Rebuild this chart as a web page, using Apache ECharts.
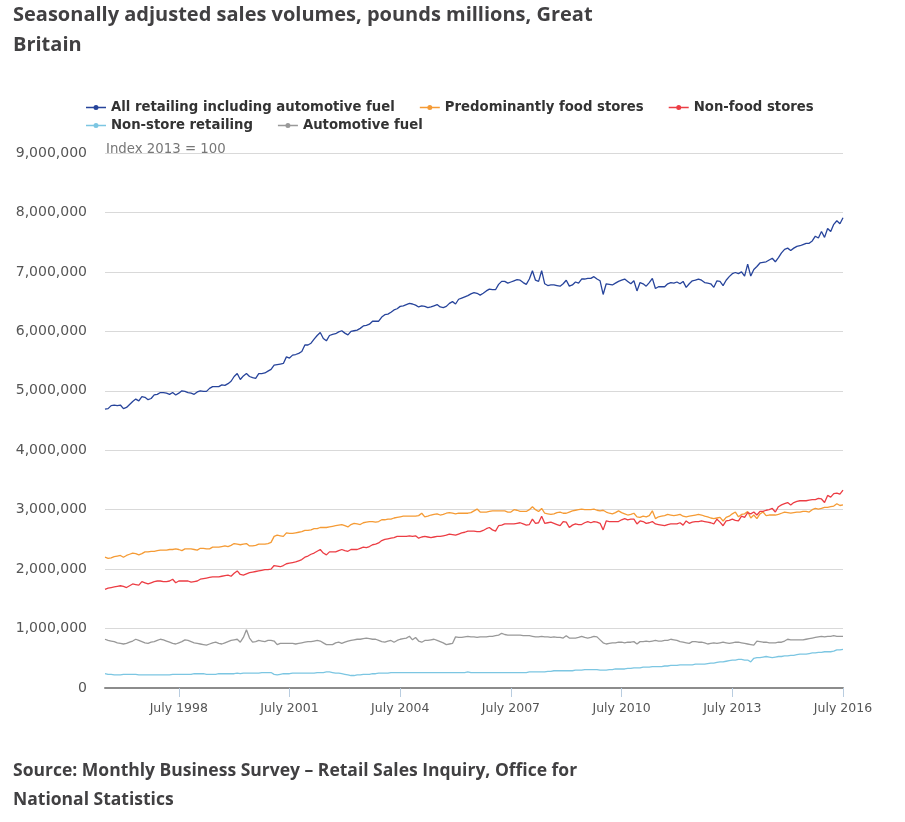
<!DOCTYPE html>
<html>
<head>
<meta charset="utf-8">
<script src="https://cdn.jsdelivr.net/npm/echarts@6/dist/echarts.min.js"></script>
<style>
html,body{margin:0;padding:0;background:#fff;}
#chart{width:905px;height:822px;}
</style>
</head>
<body>
<div id="chart"></div>
<script>
// Monthly categories: July 1996 .. July 2016
var monthNames = ['January','February','March','April','May','June','July','August','September','October','November','December'];
var categories = [];
for (var k = 0; k < 241; k++) {
  categories.push(monthNames[(6 + k) % 12] + ' ' + (1996 + Math.floor((6 + k) / 12)));
}
var tickLabels = ['July 1998','July 2001','July 2004','July 2007','July 2010','July 2013','July 2016'];

// Values in pounds millions (millions on axis scale)
var allRetailing = [
4.69,4.70,4.75,4.76,4.75,4.76,4.70,4.72,4.77,4.82,
4.86,4.83,4.90,4.89,4.85,4.87,4.93,4.94,4.97,4.97,
4.96,4.94,4.97,4.93,4.96,5.00,4.99,4.97,4.96,4.94,
4.98,5.00,4.99,4.99,5.04,5.07,5.07,5.07,5.10,5.09,
5.12,5.16,5.24,5.29,5.19,5.25,5.29,5.24,5.22,5.21,
5.29,5.29,5.30,5.33,5.36,5.43,5.44,5.45,5.46,5.57,
5.55,5.60,5.61,5.63,5.66,5.77,5.77,5.80,5.87,5.93,
5.98,5.88,5.84,5.93,5.95,5.96,5.99,6.01,5.97,5.94,
6.00,6.01,6.02,6.05,6.09,6.10,6.12,6.17,6.17,6.17,
6.24,6.28,6.29,6.32,6.36,6.38,6.42,6.43,6.45,6.47,
6.46,6.44,6.41,6.43,6.42,6.40,6.41,6.43,6.45,6.41,
6.40,6.42,6.47,6.50,6.46,6.54,6.56,6.58,6.60,6.63,
6.65,6.64,6.61,6.64,6.68,6.71,6.70,6.70,6.79,6.84,
6.84,6.81,6.83,6.85,6.87,6.86,6.82,6.79,6.88,7.02,
6.86,6.84,7.02,6.80,6.77,6.78,6.78,6.77,6.76,6.80,
6.86,6.76,6.78,6.83,6.81,6.88,6.88,6.89,6.89,6.92,
6.88,6.85,6.62,6.80,6.79,6.78,6.81,6.84,6.86,6.88,
6.84,6.80,6.85,6.68,6.82,6.80,6.76,6.82,6.89,6.72,
6.75,6.75,6.75,6.80,6.82,6.81,6.83,6.80,6.84,6.74,
6.80,6.85,6.86,6.88,6.86,6.82,6.81,6.80,6.74,6.85,
6.84,6.77,6.86,6.92,6.97,6.99,6.97,7.00,6.93,7.13,
6.93,7.04,7.09,7.15,7.16,7.17,7.20,7.23,7.17,7.24,
7.32,7.38,7.40,7.36,7.40,7.43,7.44,7.46,7.48,7.48,
7.52,7.60,7.57,7.68,7.58,7.73,7.68,7.80,7.86,7.81,
7.91];

var foodStores = [
2.20,2.18,2.19,2.21,2.22,2.23,2.20,2.23,2.25,2.27,
2.26,2.24,2.26,2.29,2.29,2.30,2.30,2.31,2.32,2.32,
2.32,2.33,2.33,2.34,2.33,2.31,2.34,2.34,2.34,2.33,
2.32,2.35,2.35,2.34,2.34,2.37,2.37,2.37,2.38,2.39,
2.38,2.40,2.43,2.42,2.41,2.42,2.43,2.39,2.39,2.40,
2.42,2.42,2.42,2.43,2.45,2.55,2.57,2.56,2.55,2.61,
2.60,2.60,2.61,2.62,2.63,2.65,2.65,2.66,2.68,2.68,
2.70,2.70,2.70,2.71,2.72,2.73,2.74,2.75,2.73,2.71,
2.75,2.77,2.76,2.75,2.78,2.79,2.80,2.80,2.79,2.80,
2.83,2.83,2.84,2.84,2.86,2.87,2.88,2.89,2.89,2.89,
2.89,2.89,2.90,2.94,2.88,2.89,2.91,2.92,2.93,2.91,
2.92,2.94,2.95,2.94,2.93,2.94,2.94,2.94,2.94,2.95,
2.98,3.01,2.96,2.96,2.96,2.97,2.98,2.98,2.98,2.98,
2.98,2.96,2.96,3.00,2.99,2.97,2.97,2.97,3.00,3.05,
3.00,2.97,3.02,2.94,2.93,2.92,2.93,2.95,2.96,2.94,
2.94,2.96,2.98,2.99,3.00,3.01,3.00,3.00,3.00,3.01,
2.99,2.98,2.99,2.96,2.94,2.93,2.95,2.98,2.95,2.93,
2.91,2.92,2.94,2.88,2.87,2.89,2.88,2.90,2.98,2.85,
2.88,2.89,2.90,2.92,2.91,2.90,2.91,2.92,2.89,2.88,
2.89,2.90,2.91,2.92,2.91,2.89,2.88,2.86,2.85,2.86,
2.87,2.81,2.87,2.89,2.93,2.96,2.88,2.92,2.93,2.97,
2.86,2.91,2.85,2.93,2.96,2.90,2.91,2.91,2.91,2.92,
2.94,2.96,2.95,2.94,2.95,2.96,2.96,2.97,2.97,2.96,
3.00,3.02,3.01,3.02,3.04,3.04,3.05,3.06,3.10,3.07,
3.08];

var nonFood = [
1.66,1.68,1.69,1.70,1.71,1.72,1.71,1.69,1.72,1.75,
1.74,1.73,1.79,1.77,1.75,1.77,1.79,1.80,1.80,1.79,
1.79,1.80,1.83,1.77,1.80,1.80,1.80,1.80,1.78,1.79,
1.80,1.83,1.84,1.85,1.86,1.87,1.87,1.87,1.88,1.89,
1.90,1.88,1.93,1.97,1.91,1.90,1.92,1.94,1.95,1.96,
1.97,1.98,1.99,1.99,2.00,2.06,2.05,2.04,2.06,2.09,
2.10,2.11,2.12,2.14,2.16,2.20,2.22,2.25,2.27,2.30,
2.33,2.27,2.24,2.29,2.29,2.29,2.31,2.33,2.31,2.30,
2.33,2.33,2.33,2.35,2.37,2.36,2.38,2.41,2.42,2.44,
2.48,2.50,2.51,2.52,2.53,2.55,2.55,2.55,2.55,2.56,
2.55,2.56,2.52,2.54,2.55,2.54,2.53,2.54,2.55,2.55,
2.56,2.57,2.59,2.58,2.57,2.59,2.61,2.62,2.64,2.64,
2.64,2.63,2.63,2.65,2.68,2.70,2.66,2.64,2.73,2.74,
2.76,2.76,2.76,2.76,2.77,2.78,2.76,2.74,2.75,2.84,
2.77,2.78,2.89,2.77,2.78,2.79,2.77,2.75,2.73,2.80,
2.79,2.70,2.74,2.76,2.75,2.75,2.78,2.80,2.78,2.80,
2.79,2.77,2.66,2.81,2.80,2.80,2.80,2.80,2.83,2.85,
2.83,2.84,2.84,2.76,2.81,2.80,2.77,2.78,2.80,2.76,
2.75,2.74,2.73,2.75,2.76,2.76,2.76,2.78,2.74,2.81,
2.77,2.79,2.80,2.80,2.81,2.80,2.79,2.78,2.76,2.84,
2.79,2.73,2.81,2.82,2.84,2.82,2.81,2.89,2.87,2.95,
2.93,2.96,2.91,2.97,2.97,2.99,3.00,3.02,2.96,3.05,
3.08,3.10,3.12,3.08,3.12,3.14,3.15,3.15,3.15,3.16,
3.17,3.17,3.19,3.18,3.12,3.24,3.21,3.27,3.28,3.26,
3.33];

var nonStore = [
0.24,0.23,0.23,0.22,0.22,0.22,0.23,0.23,0.23,0.23,
0.23,0.22,0.22,0.22,0.22,0.22,0.22,0.22,0.22,0.22,
0.22,0.22,0.23,0.23,0.23,0.23,0.23,0.23,0.23,0.24,
0.24,0.24,0.24,0.23,0.23,0.23,0.23,0.24,0.24,0.24,
0.24,0.24,0.24,0.25,0.24,0.25,0.25,0.25,0.25,0.25,
0.25,0.26,0.26,0.26,0.26,0.23,0.22,0.23,0.24,0.24,
0.24,0.25,0.25,0.25,0.25,0.25,0.25,0.25,0.25,0.26,
0.26,0.26,0.27,0.27,0.26,0.25,0.25,0.24,0.23,0.22,
0.21,0.21,0.22,0.22,0.23,0.23,0.23,0.24,0.24,0.25,
0.25,0.25,0.25,0.26,0.26,0.26,0.26,0.26,0.26,0.26,
0.26,0.26,0.26,0.26,0.26,0.26,0.26,0.26,0.26,0.26,
0.26,0.26,0.26,0.26,0.26,0.26,0.26,0.26,0.27,0.26,
0.26,0.26,0.26,0.26,0.26,0.26,0.26,0.26,0.26,0.26,
0.26,0.26,0.26,0.26,0.26,0.26,0.26,0.26,0.27,0.27,
0.27,0.27,0.27,0.27,0.28,0.28,0.29,0.29,0.29,0.29,
0.29,0.29,0.29,0.30,0.30,0.30,0.31,0.31,0.31,0.31,
0.31,0.30,0.30,0.30,0.31,0.31,0.32,0.32,0.32,0.32,
0.33,0.33,0.34,0.34,0.34,0.35,0.35,0.35,0.36,0.36,
0.36,0.36,0.37,0.37,0.38,0.38,0.38,0.39,0.39,0.39,
0.39,0.39,0.40,0.40,0.40,0.40,0.41,0.42,0.42,0.43,
0.44,0.44,0.45,0.46,0.47,0.47,0.48,0.48,0.47,0.47,
0.44,0.50,0.51,0.51,0.52,0.53,0.52,0.51,0.52,0.53,
0.53,0.54,0.54,0.55,0.55,0.56,0.57,0.57,0.57,0.58,
0.59,0.59,0.60,0.60,0.61,0.61,0.61,0.62,0.64,0.64,
0.65];

var autoFuel = [
0.82,0.80,0.79,0.78,0.76,0.75,0.74,0.75,0.77,0.79,
0.82,0.80,0.78,0.76,0.75,0.77,0.78,0.80,0.82,0.81,
0.79,0.77,0.75,0.74,0.76,0.78,0.81,0.80,0.78,0.76,
0.75,0.74,0.73,0.72,0.74,0.76,0.77,0.75,0.74,0.76,
0.78,0.80,0.81,0.82,0.77,0.85,0.98,0.84,0.77,0.78,
0.80,0.79,0.78,0.80,0.80,0.79,0.73,0.75,0.75,0.75,
0.75,0.75,0.74,0.75,0.76,0.77,0.78,0.78,0.79,0.80,
0.79,0.76,0.73,0.73,0.73,0.76,0.77,0.75,0.77,0.79,
0.80,0.81,0.82,0.82,0.83,0.84,0.83,0.82,0.82,0.80,
0.78,0.77,0.79,0.80,0.77,0.80,0.82,0.83,0.84,0.87,
0.81,0.85,0.79,0.77,0.80,0.80,0.81,0.82,0.80,0.78,
0.76,0.73,0.74,0.75,0.86,0.85,0.85,0.86,0.87,0.86,
0.86,0.85,0.86,0.86,0.86,0.87,0.87,0.88,0.89,0.92,
0.90,0.89,0.89,0.89,0.89,0.89,0.88,0.88,0.88,0.87,
0.86,0.86,0.87,0.86,0.86,0.85,0.86,0.85,0.85,0.84,
0.88,0.84,0.84,0.84,0.85,0.87,0.85,0.84,0.85,0.87,
0.86,0.81,0.76,0.74,0.75,0.76,0.76,0.77,0.77,0.76,
0.77,0.77,0.78,0.74,0.78,0.78,0.79,0.78,0.79,0.80,
0.79,0.79,0.80,0.80,0.82,0.81,0.80,0.78,0.77,0.76,
0.75,0.78,0.78,0.77,0.77,0.76,0.74,0.75,0.76,0.75,
0.76,0.77,0.76,0.75,0.76,0.77,0.77,0.76,0.75,0.74,
0.73,0.72,0.79,0.78,0.77,0.77,0.76,0.76,0.76,0.77,
0.77,0.79,0.82,0.81,0.81,0.81,0.81,0.81,0.82,0.83,
0.84,0.85,0.86,0.87,0.86,0.87,0.87,0.88,0.87,0.87,
0.87];

var seriesNames = ['All retailing including automotive fuel','Predominantly food stores','Non-food stores','Non-store retailing','Automotive fuel'];
var seriesColors = ['#27449b','#f59b35','#ec3d44','#7cc6e2','#999999'];
var seriesValues = [allRetailing, foodStores, nonFood, nonStore, autoFuel];

function toPounds(arr){ return arr.map(function(v){ return Math.round(v * 1000000); }); }

var chart = echarts.init(document.getElementById('chart'), null, {renderer:'canvas'});
var legendText = {fontFamily:'DejaVu Sans', fontWeight:'bold', fontSize:13.25, color:'#333333'};
var legendIcon = 'path://M0,1.75 H20 V3.25 H0 Z M7.5,2.5 A2.5,2.5 0 1,1 12.5,2.5 A2.5,2.5 0 1,1 7.5,2.5 Z';
var option = {
  animation: false,
  backgroundColor: '#ffffff',
  title: [
    {text: 'Seasonally adjusted sales volumes, pounds millions, Great\nBritain', left: 8, top: -5,
     textStyle: {fontFamily:'Open Sans', fontWeight:'bold', fontSize:20, lineHeight:30, color:'#414042'}},
    {text: 'Source: Monthly Business Survey \u2013 Retail Sales Inquiry, Office for\nNational Statistics', left: 8, top: 752,
     textStyle: {fontFamily:'Open Sans', fontWeight:'bold', fontSize:17.5, lineHeight:29, color:'#414042'}}
  ],
  legend: [
    {data: seriesNames.slice(0,3), left: 81, top: 96, itemGap: 25, itemWidth: 20, itemHeight: 5, icon: legendIcon, textStyle: legendText, selectedMode:false},
    {data: seriesNames.slice(3), left: 81, top: 114, itemGap: 25, itemWidth: 20, itemHeight: 5, icon: legendIcon, textStyle: legendText, selectedMode:false}
  ],
  graphic: [
    {type:'text', left: 106, top: 143, style:{text:'Index 2013 = 100', fontFamily:'DejaVu Sans', fontSize:13.3, fill:'#777777'}}
  ],
  grid: {left: 105, right: 62, top: 153, bottom: 134, containLabel: false},
  xAxis: {
    type: 'category',
    data: categories,
    boundaryGap: false,
    axisLine: {show: true, lineStyle: {color: '#8c8c8c', width: 2}},
    axisTick: {show: true, length: 9, lineStyle: {color: '#b9cde0', width: 1},
      interval: function(idx, val){ return tickLabels.indexOf(val) >= 0; }},
    axisLabel: {show: true, margin: 14, fontFamily:'DejaVu Sans', fontSize: 12.5, color: '#555555',
      interval: function(idx, val){ return tickLabels.indexOf(val) >= 0; }},
    splitLine: {show: false}
  },
  yAxis: {
    type: 'value',
    min: 0, max: 9000000, interval: 1000000,
    axisLine: {show: false},
    axisTick: {show: false},
    axisLabel: {margin: 18, fontFamily:'DejaVu Sans', fontSize: 14, color: '#555555',
      formatter: function(v){ return v.toLocaleString('en-GB'); }},
    splitLine: {lineStyle: {color: '#d9d9d9', width: 1}}
  },
  series: seriesNames.map(function(name, i){
    return {
      name: name, type: 'line', data: toPounds(seriesValues[i]),
      symbol: 'circle', symbolSize: 5, showSymbol: false,
      lineStyle: {width: 1.3, color: seriesColors[i]},
      itemStyle: {color: seriesColors[i]},
      emphasis: {disabled: true}
    };
  })
};
chart.setOption(option);
</script>
</body>
</html>
